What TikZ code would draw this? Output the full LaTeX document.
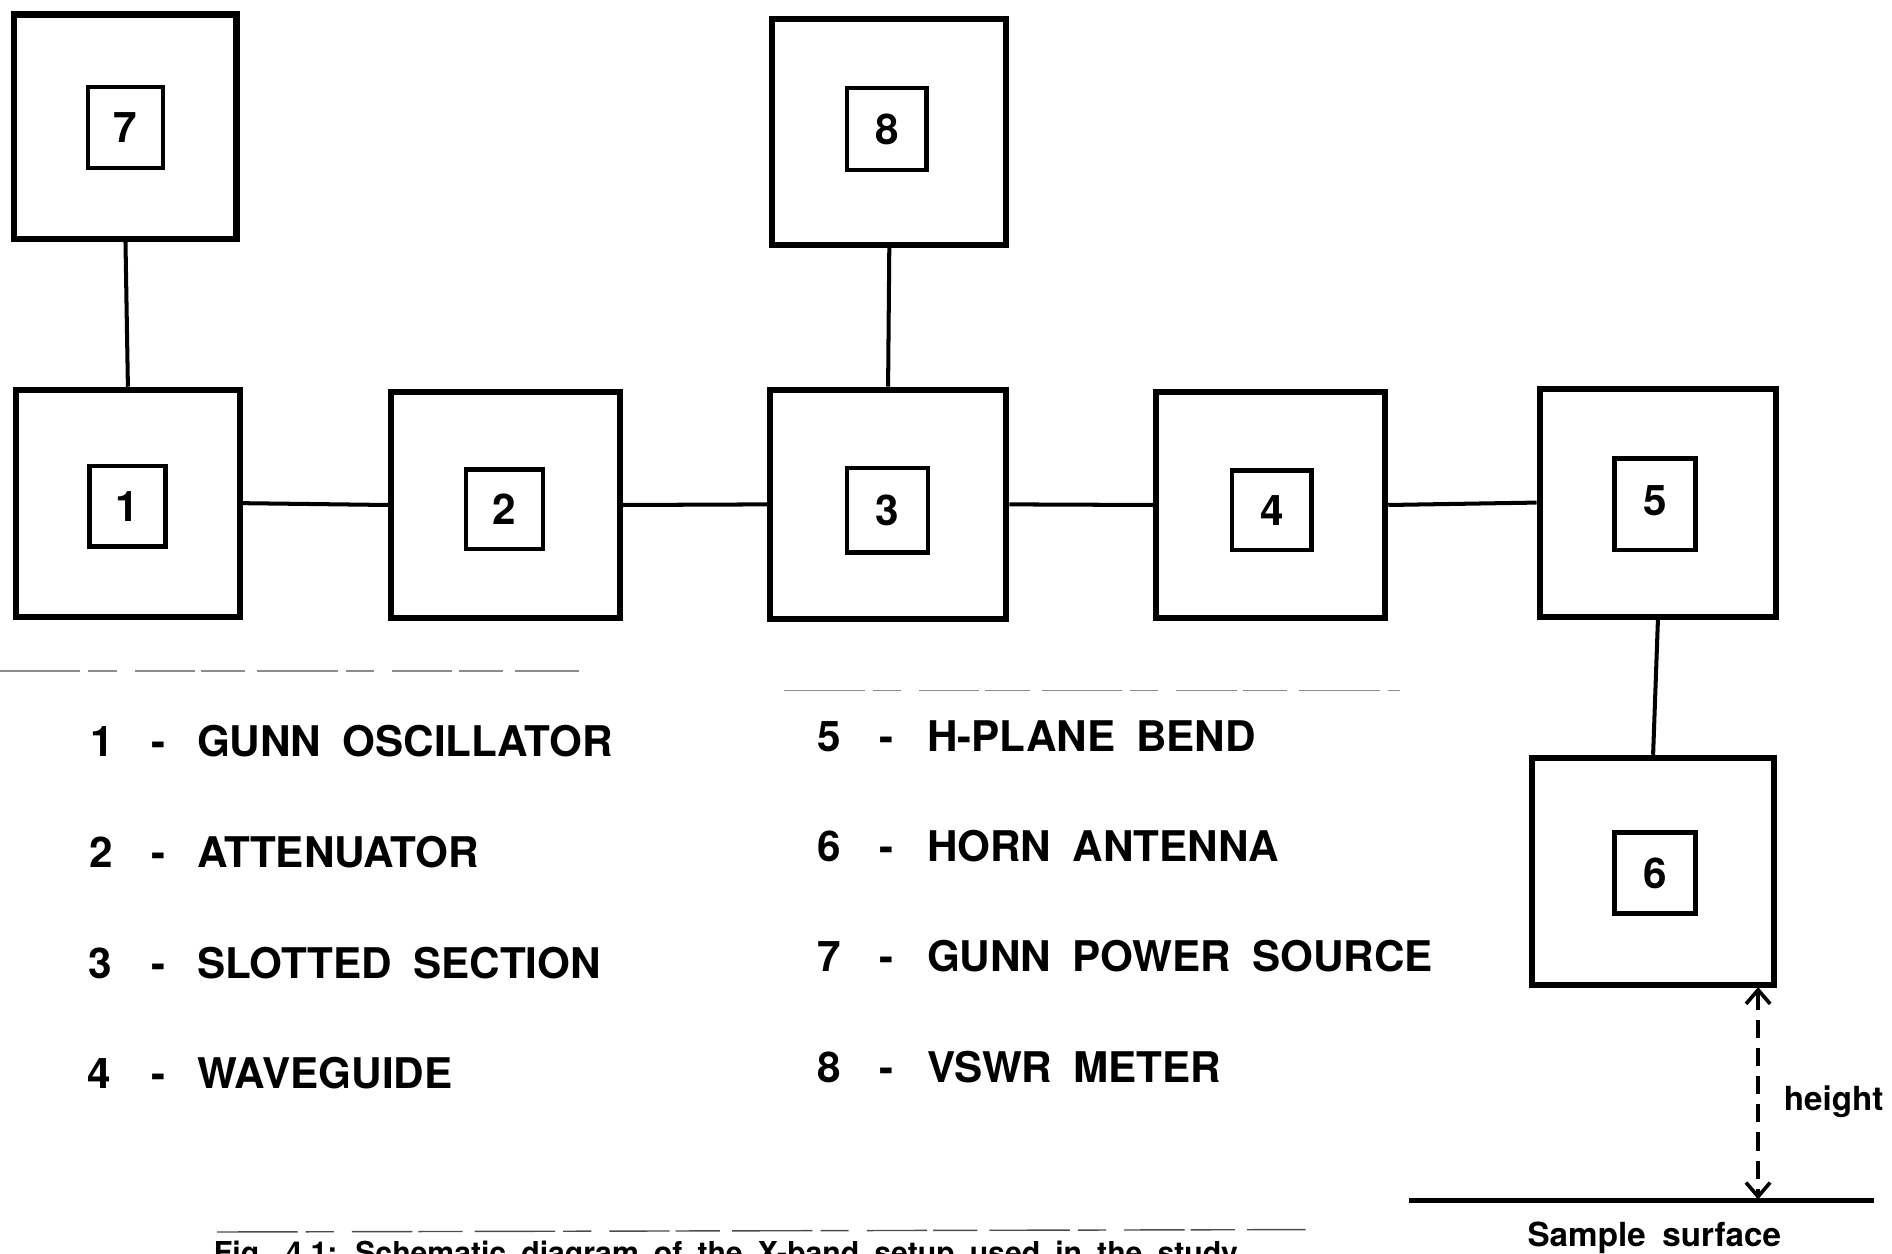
\documentclass[tikz,border=0pt]{standalone}
\usepackage{fontspec}
\setmainfont[WordSpace=1.8]{TeX Gyre Heros}
\usetikzlibrary{arrows.meta}
\begin{document}
\begin{tikzpicture}[x=0.6pt,y=-0.6pt,
  outerbox/.style={draw, line width=3pt, rectangle, inner sep=0pt},
  innerbox/.style={draw, line width=2.2pt, rectangle, inner sep=0pt, font=\fontsize{21}{24}\selectfont\bfseries},
  link/.style={line width=2pt},
  legnum/.style={anchor=base, inner sep=0pt, font=\fontsize{21}{25}\selectfont\bfseries},
  legtext/.style={anchor=base west, inner sep=0pt, font=\fontsize{21}{25}\selectfont\bfseries},
  faint/.style={line width=0.7pt, black!45, dash pattern=on 40pt off 4pt on 14pt off 9pt on 30pt off 3pt on 22pt off 6pt},
  barb/.tip={Straight Barb[length=7pt,width=12pt,line width=1.8pt]},
  hdim/.style={line width=2pt, dash pattern=on 9pt off 5pt, barb-barb},
  small/.style={inner sep=0pt, font=\fontsize{16.5}{20}\selectfont\bfseries}
]
\useasboundingbox (0,0) rectangle (1568,1039);
\clip (0,0) rectangle (1568,1039);

% outer boxes
\node[outerbox, minimum width=110.4pt, minimum height=111.6pt] (b7) at (104,105) {};
\node[outerbox, minimum width=111.6pt, minimum height=112.8pt] (b1) at (106,417) {};
\node[outerbox, minimum width=114pt, minimum height=112.2pt] (b2) at (419,418.5) {};
\node[outerbox, minimum width=117.6pt, minimum height=114pt] (b3) at (736,418) {};
\node[outerbox, minimum width=116.4pt, minimum height=112.2pt] (b8) at (737,109.5) {};
\node[outerbox, minimum width=114pt, minimum height=112.2pt] (b4) at (1053,418.5) {};
\node[outerbox, minimum width=117.6pt, minimum height=113.4pt] (b5) at (1374,416.5) {};
\node[outerbox, minimum width=120pt, minimum height=112.8pt] (b6) at (1370,722) {};

% inner boxes
\node[innerbox, minimum width=37.2pt, minimum height=40.2pt] (i7) at (104,105.5) {7};
\node[innerbox, minimum width=37.8pt, minimum height=40.2pt] (i1) at (105.5,419.5) {1};
\node[innerbox, minimum width=38.4pt, minimum height=39.6pt] (i2) at (418,422) {2};
\node[innerbox, minimum width=40.2pt, minimum height=42pt] (i3) at (735.5,423) {3};
\node[innerbox, minimum width=39.6pt, minimum height=40.8pt] (i8) at (735,107) {8};
\node[innerbox, minimum width=39.6pt, minimum height=39.6pt] (i4) at (1054,423) {4};
\node[innerbox, minimum width=40.2pt, minimum height=45.6pt] (i5) at (1371.5,418) {\raisebox{4pt}{5}};
\node[innerbox, minimum width=40.2pt, minimum height=40.2pt] (i6) at (1371.5,723.5) {6};

% connectors
\draw[link] (b7.south) -- (b1.north);
\draw[link] (b8.south) -- (b3.north);
\draw[link] (b1.east) -- (b2.west);
\draw[link] (b2.east) -- (b3.west);
\draw[link] (b3.east) -- (b4.west);
\draw[link] (b4.east) -- (b5.west);
\draw[link] (b5.south) -- (b6.north);

% faint rules
\coordinate (fa1) at (0,556);   \coordinate (fa2) at (480,556);
\coordinate (fb1) at (650,572); \coordinate (fb2) at (1160,572);
\coordinate (fc1) at (180,1021); \coordinate (fc2) at (1082,1019);
\draw[faint] (fa1) -- (fa2);
\draw[faint] (fb1) -- (fb2);
\draw[faint, black!70] (fc1) -- (fc2);

% legend left
\node[legnum] (n1) at (85,627) {1};
\node[legnum] (d1) at (131,627) {-};
\node[legtext] (t1) at (163,627) {GUNN OSCILLATOR};
\node[legnum] (n2) at (84,719) {2};
\node[legnum] (d2) at (131,719) {-};
\node[legtext] (t2) at (163,719) {ATTENUATOR};
\node[legnum] (n3) at (83,811) {3};
\node[legnum] (d3) at (131,811) {-};
\node[legtext] (t3) at (163,811) {SLOTTED SECTION};
\node[legnum] (n4) at (82,902) {4};
\node[legnum] (d4) at (131,902) {-};
\node[legtext] (t4) at (163,902) {WAVEGUIDE};
% legend right
\node[legnum] (n5) at (687,623) {5};
\node[legnum] (d5) at (735,623) {-};
\node[legtext] (t5) at (768,623) {H-PLANE BEND};
\node[legnum] (n6) at (687,714) {6};
\node[legnum] (d6) at (735,714) {-};
\node[legtext] (t6) at (768,714) {HORN ANTENNA};
\node[legnum] (n7) at (687,805) {7};
\node[legnum] (d7) at (735,805) {-};
\node[legtext] (t7) at (768,805) {GUNN POWER SOURCE};
\node[legnum] (n8) at (687,897) {8};
\node[legnum] (d8) at (735,897) {-};
\node[legtext] (t8) at (768,897) {VSWR METER};

% height and sample surface
\coordinate (s1) at (1168,995);
\coordinate (s2) at (1553,995);
\draw[line width=2.2pt] (s1) -- (s2);
\coordinate (hTop) at (1457,818);
\coordinate (hBot) at (1457,994);
\draw[hdim] (hTop) -- (hBot);
\node[small, anchor=base west] (hl) at (1478,920) {height};
\node[small, anchor=base] (sl) at (1371,1033) {Sample surface};

% caption, cut off at the lower edge as in the scan
\node[anchor=base west, inner sep=0pt, font=\fontsize{15}{18}\selectfont\bfseries] (cap) at (177,1047) {Fig. 4.1: Schematic diagram of the X-band setup used in the study};
\end{tikzpicture}
\end{document}
